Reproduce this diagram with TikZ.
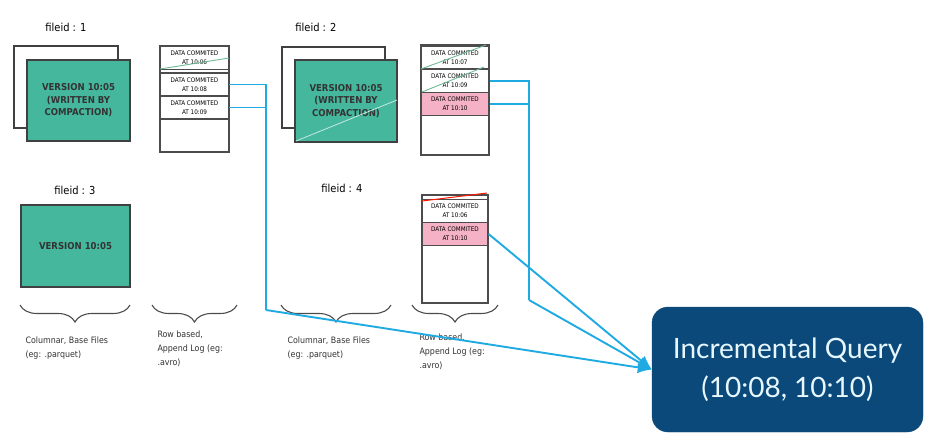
\documentclass[tikz,border=0pt]{standalone}
\usepackage{fontspec}
\setmainfont{DejaVu Sans Condensed}
\newfontfamily\queryfont{Lato}
\usetikzlibrary{decorations.pathreplacing,arrows.meta}

\definecolor{basegreen}{RGB}{68,183,157}
\definecolor{logpink}{RGB}{245,178,198}
\definecolor{linkblue}{RGB}{32,170,226}
\definecolor{querynavy}{RGB}{11,73,122}
\definecolor{strikegreen}{RGB}{110,185,150}

\tikzset{
  backbox/.style={draw=black!75, fill=white, line width=1.2pt},
  basebox/.style={draw=black!75, fill=basegreen, line width=1.4pt},
  basetext/.style={font=\bfseries\fontsize{9.5}{12.5}\selectfont, text=black!80, align=center},
  logbox/.style={draw=black!70, line width=1.2pt},
  logrow/.style={draw=black!70, line width=1.2pt, minimum width=68pt, minimum height=23pt,
    inner sep=0pt, align=center, font=\fontsize{6.3}{9}\selectfont},
  fileid/.style={font=\fontsize{11}{13}\selectfont},
  note/.style={anchor=north west, align=left, font=\fontsize{8.8}{14}\selectfont, text=black!80},
  brace/.style={decorate, decoration={brace, mirror, amplitude=17pt}, draw=black!70, line width=1.1pt},
  link/.style={draw=linkblue, line width=1.9pt},
  strike/.style={draw=strikegreen, line width=0.9pt},
}

\begin{document}
\begin{tikzpicture}[x=1pt, y=-1pt]
  \useasboundingbox (0,0) rectangle (933,440);

  % fileid 1
  \node[fileid] (lbl1) at (66,27) {fileid : 1};
  \draw[backbox] (14,46) rectangle (118,128);
  \draw[basebox] (27,60) rectangle (130,141);
  \node[basetext] (f1) at (78.5,100.5) {VERSION 10:05\\(WRITTEN BY\\COMPACTION)};

  \draw[logbox] (160,46) rectangle (229,152);
  \node[logrow] (l1a) at (194.5,58) {DATA COMMITED\\AT 10:06};
  \node[logrow] (l1b) at (194.5,84.5) {DATA COMMITED\\AT 10:08};
  \node[logrow] (l1c) at (194.5,107.5) {DATA COMMITED\\AT 10:09};
  \draw[strike] (160,69) -- (229,58);

  % fileid 2
  \node[fileid] (lbl2) at (316,27) {fileid : 2};
  \draw[backbox] (282,47) rectangle (385,128);
  \draw[basebox] (295,60) rectangle (397,142);
  \node[basetext] (f2) at (346,101) {VERSION 10:05\\(WRITTEN BY\\COMPACTION)};
  \draw[draw=white!70!basegreen, line width=0.8pt] (296,141) -- (397,100);

  \draw[logbox] (421,45) rectangle (489,155);
  \node[logrow] (l2a) at (455,57.5) {DATA COMMITED\\AT 10:07};
  \node[logrow] (l2b) at (455,81) {DATA COMMITED\\AT 10:09};
  \node[logrow, fill=logpink] (l2c) at (455,104) {DATA COMMITED\\AT 10:10};
  \draw[strike] (421,69) -- (486,45);
  \draw[strike] (422,92) -- (484,67);

  % fileid 3
  \node[fileid] (lbl3) at (75,190) {fileid : 3};
  \draw[basebox] (21,205) rectangle (130,287);
  \node[basetext] (f3) at (75.5,246) {VERSION 10:05};

  % fileid 4
  \node[fileid] (lbl4) at (342,188) {fileid : 4};
  \draw[logbox] (422,195) rectangle (488,303);
  \node[logrow, minimum width=66pt] (l4a) at (455,211) {DATA COMMITED\\AT 10:06};
  \node[logrow, minimum width=66pt, fill=logpink] (l4b) at (455,234) {DATA COMMITED\\AT 10:10};
  \draw[draw=red!80!orange, line width=1pt] (422,201) -- (487,193);

  % braces and notes
  \draw[brace] (20,305) -- (130,305);
  \draw[brace] (152,305) -- (237,305);
  \draw[brace] (281,305) -- (391,305);
  \draw[brace] (412,305) -- (498,305);
  \node[note] (n1) at (22,333) {Columnar, Base Files\\(eg: .parquet)};
  \node[note] (n2) at (154,327) {Row based,\\Append Log (eg:\\.avro)};
  \node[note] (n3) at (284,333) {Columnar, Base Files\\(eg: .parquet)};
  \node[note] (n4) at (416,330) {Row based,\\Append Log (eg:\\.avro)};

  % query
  \node[draw=querynavy, fill=querynavy, rounded corners=16pt, minimum width=271pt,
    minimum height=125pt, text=white!90!cyan, align=center,
    font=\queryfont\fontsize{28}{39}\selectfont] (query) at (787.5,369.5)
    {Incremental Query\\(10:08, 10:10)};

  % links
  \coordinate (j1) at (266,310);
  \coordinate (j2) at (529,300);
  \draw[link] (l1b.east) -| (j1);
  \draw[link] (l1c.east) -- (l1c.east -| j1);
  \draw[link] (l2b.east) -| (j2);
  \draw[link] (l2c.east) -- (l2c.east -| j2);
  \draw[link, -{Latex[length=14pt,width=12pt]}] (j1) -- (query.west);
  \draw[link, -{Latex[length=14pt,width=12pt]}] (j2) -- (query.west);
  \draw[link, -{Latex[length=14pt,width=12pt]}] (l4b.east) -- (query.west);
\end{tikzpicture}
\end{document}
